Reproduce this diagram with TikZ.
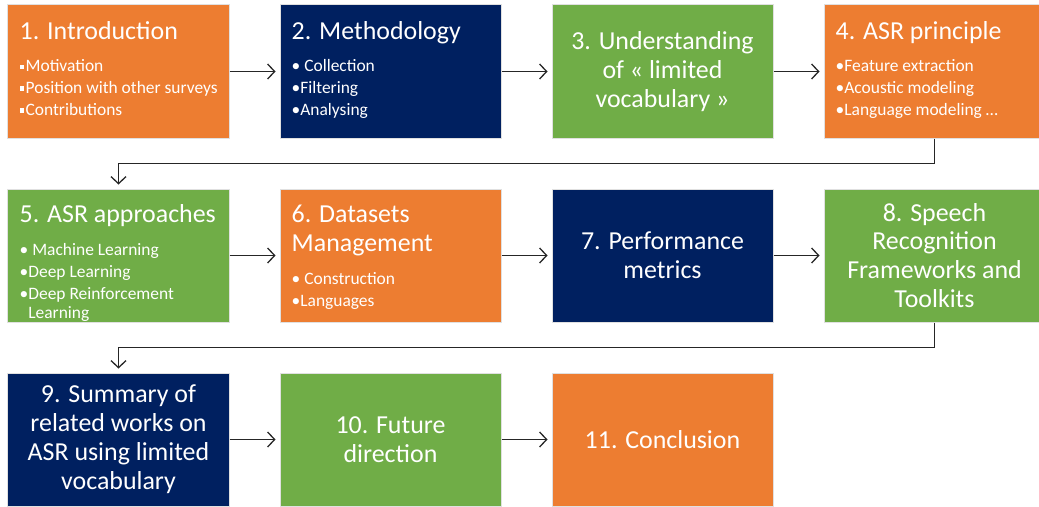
\documentclass[tikz,border=0pt]{standalone}
\usepackage{fontspec}
\setmainfont{Carlito}
\usetikzlibrary{arrows.meta,calc,positioning}
\definecolor{ppOrange}{RGB}{237,125,49}
\definecolor{ppNavy}{RGB}{0,32,96}
\definecolor{ppGreen}{RGB}{112,173,71}
\newcommand{\ttlfont}{\fontsize{26}{29}\selectfont}
\newcommand{\bulfont}{\fontsize{17.5}{22}\selectfont}
\newcommand{\sqb}{\rule[3pt]{4.5pt}{4.5pt}\hspace{1.5pt}}
\newcommand{\bul}{•}
\newcommand{\ttlstrut}{\rule{0pt}{22pt}}

\begin{document}
\begin{tikzpicture}[node distance=50bp,
      box/.style={minimum width=221bp,minimum height=133bp,draw=black!12,line width=1bp,inner sep=0pt,text=white},
      ora/.style={box,fill=ppOrange},
      nav/.style={box,fill=ppNavy},
      grn/.style={box,fill=ppGreen},
      ctr/.style={align=center,font=\ttlfont},
      lst/.style={anchor=north west,align=left,font=\bulfont,text=white,inner sep=0pt},
      arr/.style={-{Straight Barb[length=7bp,width=15bp]},line width=1.3bp,black!85,shorten >=4bp}]
      % page frame, b1 sits at the origin
      \useasboundingbox (-118.5bp,71.5bp) rectangle ++(1039bp,-507bp);
      % first row
      \node[ora] (b1) at (0,0) {};
      \node[nav,right=of b1] (b2) {};
      \node[grn,right=of b2,ctr] (b3) {3. Understanding\\of « limited\\vocabulary »};
      \node[ora,right=of b3] (b4) {};
      % second row
      \node[grn,below=of b1] (b5) {};
      \node[ora,right=of b5] (b6) {};
      \node[nav,right=of b6,ctr] (b7) {7. Performance\\metrics};
      \node[grn,right=of b7,ctr] (b8) {8. Speech\\Recognition\\Frameworks and\\Toolkits};
      % third row
      \node[nav,below=of b5,ctr] (b9) {9. Summary of\\related works on\\ASR using limited\\vocabulary};
      \node[grn,right=of b9,ctr] (b10) {10. Future\\direction};
      \node[ora,right=of b10,ctr] (b11) {11. Conclusion};
      % texts of the list boxes
      \node[lst] (t1) at ($(b1.north west)+(12bp,-12.5bp)$) {\ttlstrut{\ttlfont 1. Introduction}\\[11pt]
        \sqb Motivation\\\sqb Position with other surveys\\\sqb Contributions};
      \node[lst] (t2) at ($(b2.north west)+(12bp,-12.5bp)$) {\ttlstrut{\ttlfont 2. Methodology}\\[11pt]
        \bul\ Collection\\\bul Filtering\\\bul Analysing};
      \node[lst] (t4) at ($(b4.north west)+(12bp,-12.5bp)$) {\ttlstrut{\ttlfont 4. ASR principle}\\[11pt]
        \bul Feature extraction\\\bul Acoustic modeling\\\bul Language modeling …};
      \node[lst] (t5) at ($(b5.north west)+(12bp,-12bp)$) {\ttlstrut{\ttlfont 5. ASR approaches}\\[11pt]
        \bul\ Machine Learning\\\bul Deep Learning\\\bul Deep Reinforcement\\[-3pt]\phantom{\bul}Learning};
      \node[lst] (t6) at ($(b6.north west)+(12bp,-12bp)$) {\ttlstrut{\ttlfont 6. Datasets}\\[7pt]{\ttlfont Management}\\[11pt]
        \bul\ Construction\\\bul Languages};
      % connectors
      \draw[arr] (b1) -- (b2);
      \draw[arr] (b2) -- (b3);
      \draw[arr] (b3) -- (b4);
      \draw[arr] (b4.south) -- ++(0,-25bp) -| (b5.north);
      \draw[arr] (b5) -- (b6);
      \draw[arr] (b6) -- (b7);
      \draw[arr] (b7) -- (b8);
      \draw[arr] (b8.south) -- ++(0,-25bp) -| (b9.north);
      \draw[arr] (b9) -- (b10);
      \draw[arr] (b10) -- (b11);
\end{tikzpicture}
\end{document}
